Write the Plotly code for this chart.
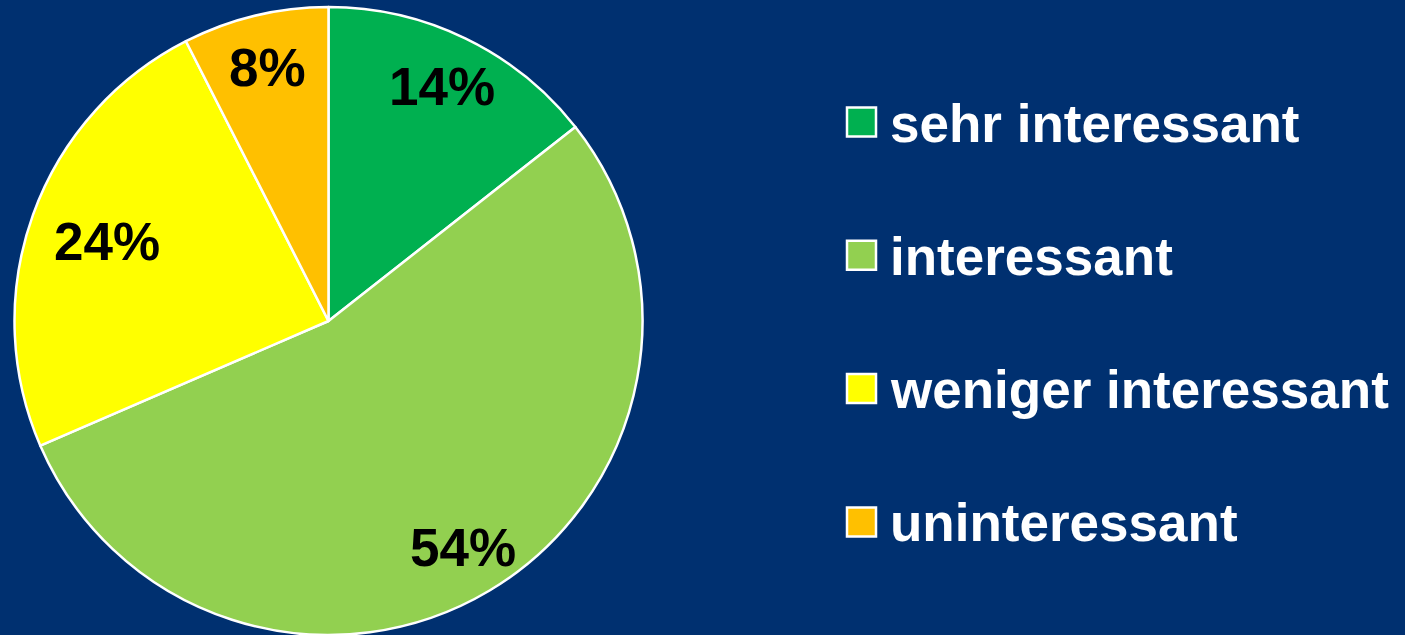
import math
import plotly.graph_objects as go

labels = ["sehr interessant", "interessant", "weniger interessant", "uninteressant"]
values = [14.4, 54.1, 24.0, 7.5]
colors = ["#00B050", "#92D050", "#FFFF00", "#FFC000"]
label_radius = [0.83, 0.84, 0.75, 0.83]  # radial position of the % labels (fraction of radius)

W, H = 1405, 635
BG = "#003070"
CX, CY, R = 328.5, 321.0, 314.0  # pie centre / radius in pixels (from top-left)
FONT = "Arial, 'Liberation Sans', sans-serif"

fig = go.Figure()
fig.add_trace(go.Pie(
    labels=labels, values=values, sort=False, direction="clockwise", rotation=0,
    marker=dict(colors=colors, line=dict(color="white", width=2.5)),
    textinfo="none", hoverinfo="label+percent", showlegend=False,
    domain=dict(x=[(CX - R) / W, (CX + R) / W], y=[(H - CY - R) / H, (H - CY + R) / H]),
))

annotations = []
shapes = []
total = sum(values)
cum = 0.0
for lab, v, rf in zip(labels, values, label_radius):
    mid = (cum + v / 2) / total * 2 * math.pi
    cum += v
    px = CX + rf * R * math.sin(mid)
    py = CY - rf * R * math.cos(mid)
    annotations.append(dict(
        x=px / W, y=1 - py / H, xref="paper", yref="paper", showarrow=False,
        text=f"<b>{int(v / total * 100 + 0.5)}%</b>", xanchor="center", yanchor="middle",
        font=dict(family=FONT, size=53, color="black"),
    ))

# legend built manually
row0, step = 122, 133.3
for i, (lab, col) in enumerate(zip(labels, colors)):
    yc = row0 + i * step
    shapes.append(dict(
        type="rect", xref="paper", yref="paper",
        x0=847 / W, x1=876 / W, y0=1 - (yc - 14.5) / H, y1=1 - (yc + 14.5) / H,
        fillcolor=col, line=dict(color="white", width=2.5),
    ))
    annotations.append(dict(
        x=888 / W, y=1 - (yc + 1) / H, xref="paper", yref="paper", showarrow=False,
        text=f"<b>{lab}</b>", xanchor="left", yanchor="middle",
        font=dict(family=FONT, size=53, color="white"),
    ))

fig.update_layout(
    width=W, height=H, margin=dict(l=0, r=0, t=0, b=0),
    paper_bgcolor=BG, plot_bgcolor=BG,
    annotations=annotations, shapes=shapes,
)
fig.write_html(
    "out.html",
    config={"displayModeBar": False},
    post_script="document.body.style.margin='0';document.body.style.background='" + BG + "';",
)
